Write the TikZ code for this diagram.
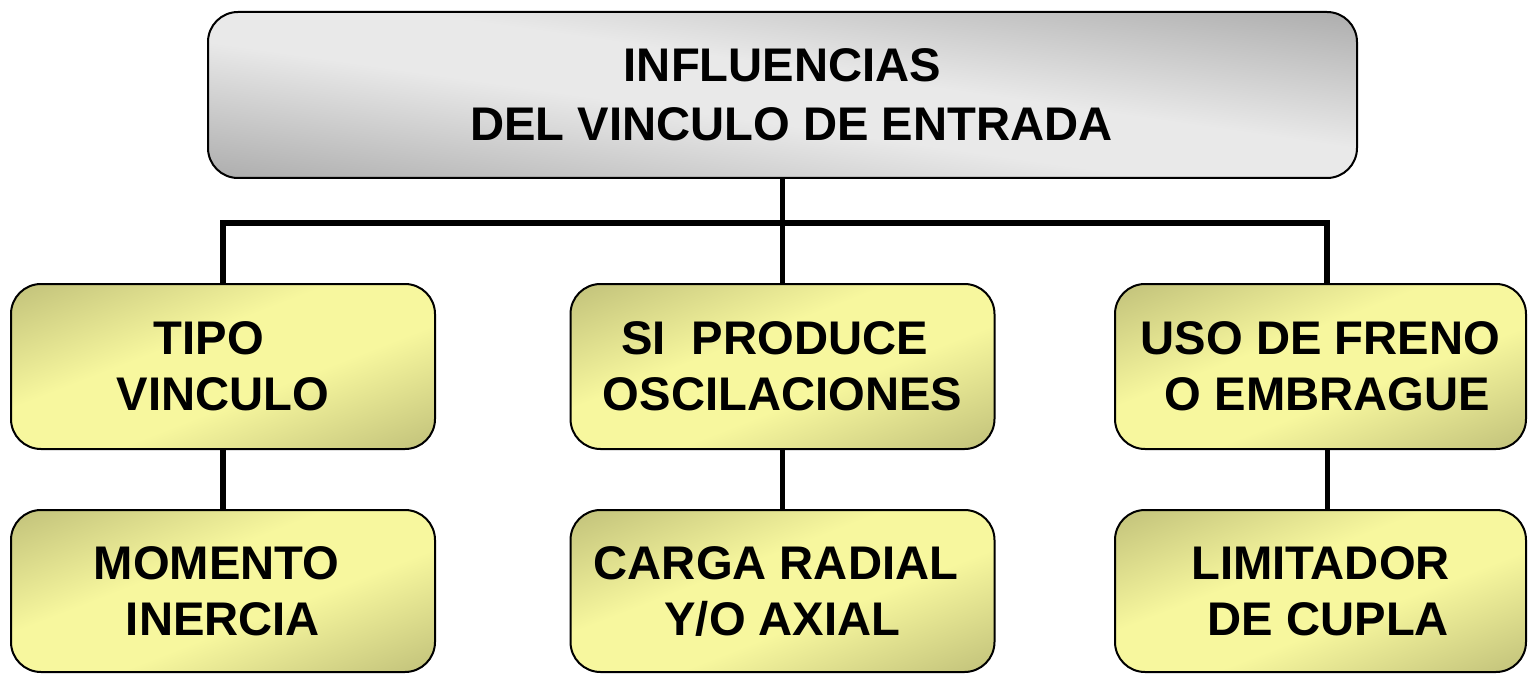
\documentclass[tikz,border=0pt]{standalone}
\usepackage{fontspec}
\setmainfont{Liberation Sans}
\usetikzlibrary{positioning}
\definecolor{yeldark}{RGB}{166,166,104}
\definecolor{yellight}{RGB}{247,247,158}
\definecolor{graydark}{RGB}{130,130,130}
\definecolor{graylight}{RGB}{233,233,233}
\pgfdeclarehorizontalshading{yelband}{100bp}{color(0bp)=(yeldark); color(5bp)=(yeldark); color(42bp)=(yellight); color(58bp)=(yellight); color(95bp)=(yeldark); color(100bp)=(yeldark)}
\pgfdeclarehorizontalshading{grayband}{100bp}{color(0bp)=(graydark); color(5bp)=(graydark); color(45bp)=(graylight); color(55bp)=(graylight); color(95bp)=(graydark); color(100bp)=(graydark)}
\tikzset{
    block/.style = {
        draw,
        shape=rectangle,
        rounded corners=15pt,
        line width=1pt,
        align=center,
        inner sep=0pt,
        font=\bfseries\fontsize{23.6pt}{28pt}\selectfont
    },
    title/.style = {
        block,
        shading=grayband,
        shading angle=81.8,
        minimum width=574.5pt,
        minimum height=83pt,
        font=\bfseries\fontsize{23.6pt}{29.5pt}\selectfont
    },
    item/.style = {
        block,
        shading=yelband,
        shading angle=-68.7,
        minimum width=212pt,
        minimum height=82.5pt
    },
    link/.style = {
        line width=2.8pt
    },
}

\begin{document}
\begin{tikzpicture}[x=0.5pt, y=-0.5pt]
    \useasboundingbox (0,0) rectangle (1528,674);

    \node[title] (top) at (782.5,95) {INFLUENCIAS\\\hspace*{9pt}DEL VINCULO DE ENTRADA};

    \node[item] (tipo) at (223,366.5) {TIPO\hspace*{14pt}\\VINCULO};
    \node[item] (oscil) at (782.5,366.5) {SI\ \ PRODUCE\hspace*{8pt}\\OSCILACIONES};
    \node[item, minimum width=205.5pt] (freno) at (1320.5,366.5) {USO DE FRENO\\\hspace*{7pt}O EMBRAGUE};

    \node[item, minimum height=81pt] (momento) at (223,591) {MOMENTO\hspace*{6.5pt}\\INERCIA};
    \node[item, minimum height=81pt] (carga) at (782.5,591) {CARGA RADIAL\hspace*{6.5pt}\\Y/O AXIAL};
    \node[item, minimum height=81pt, minimum width=205.5pt] (limitador) at (1320.5,591) {LIMITADOR\\\hspace*{8pt}DE CUPLA};

    \coordinate (bus) at (782.5,223);

    \draw[link] (top.south) -- (oscil.north);
    \draw[link] (tipo.north) |- (bus) -| ([xshift=3.25pt]freno.north);

    \draw[link] (tipo.south) -- (momento.north);
    \draw[link] (oscil.south) -- (carga.north);
    \draw[link] ([xshift=3.5pt]freno.south) -- ([xshift=3.5pt]limitador.north);
\end{tikzpicture}
\end{document}
